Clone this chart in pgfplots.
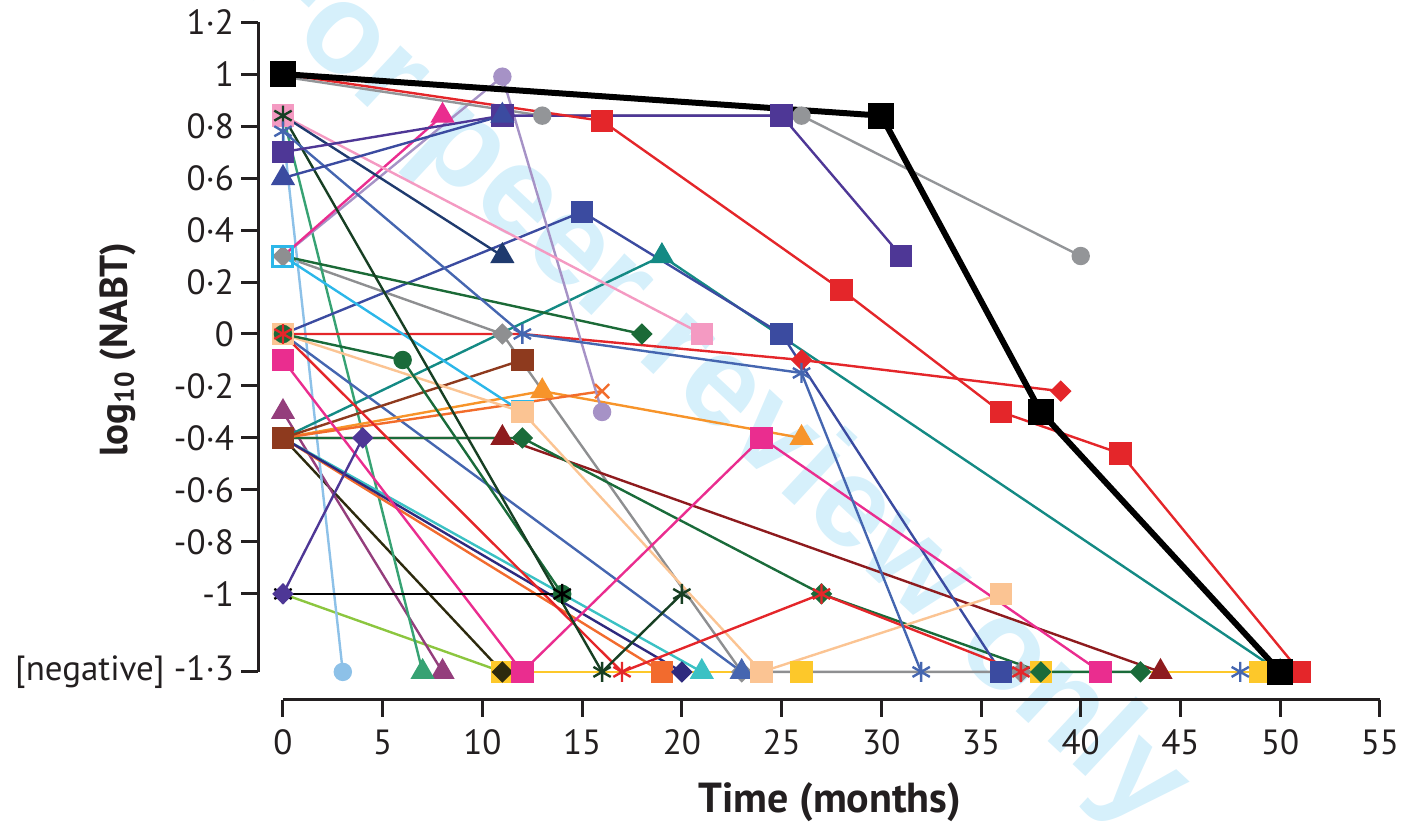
\documentclass[border=0pt]{standalone}
\usepackage{pgfplots}
\pgfplotsset{compat=1.18}
\usepackage{fontspec}
\setmainfont{PT Sans}
\newfontfamily\wmfont{Liberation Sans}
\definecolor{cred}{HTML}{E4262A}
\definecolor{cgrey}{HTML}{939598}
\definecolor{cpurple}{HTML}{4E3796}
\definecolor{cblue}{HTML}{3B4BA0}
\definecolor{clilac}{HTML}{A692C6}
\definecolor{cmagenta}{HTML}{EA2D8F}
\definecolor{cnavy}{HTML}{1F3A6E}
\definecolor{cdkgreenx}{HTML}{173F23}
\definecolor{cgreen}{HTML}{1A6B3A}
\definecolor{cseagreen}{HTML}{37A273}
\definecolor{clightblue}{HTML}{8DC1E8}
\definecolor{cbluest}{HTML}{4566B0}
\definecolor{cteal}{HTML}{148A84}
\definecolor{cdgdiam}{HTML}{1B6A37}
\definecolor{cgreydiam}{HTML}{8E8F91}
\definecolor{cpink}{HTML}{F49AC2}
\definecolor{ccyan}{HTML}{2CB7E9}
\definecolor{cpeach}{HTML}{FBC493}
\definecolor{cbrown}{HTML}{8E3A1E}
\definecolor{corangetri}{HTML}{F7942A}
\definecolor{corangex}{HTML}{F26C2B}
\definecolor{cdkred}{HTML}{8E1B1E}
\definecolor{corangesq}{HTML}{F26B2E}
\definecolor{cturq}{HTML}{3BC1C4}
\definecolor{cyellow}{HTML}{FDC82A}
\definecolor{cindigo}{HTML}{2E2A7E}
\definecolor{colive}{HTML}{2D2A0E}
\definecolor{cygreen}{HTML}{8CC63F}
\definecolor{cplum}{HTML}{943E7C}
\definecolor{cwm}{HTML}{D6F0FB}
\definecolor{caxis}{HTML}{231F20}
\begin{document}
\begin{tikzpicture}
% watermark (behind the axis)
\node[rotate=-43, text=cwm, font=\wmfont\bfseries\fontsize{64}{72}\selectfont, inner sep=0pt]
  at (227pt,158.5pt) {For peer review only};
\begin{axis}[
  at={(0pt,0pt)}, anchor=south west,
  scale only axis, width=561pt, height=339pt,
  xmin=-1.25, xmax=55, ymin=-1.408, ymax=1.2,
  clip=false,
  axis x line*=bottom, axis y line*=left,
  axis line style={draw=none},
  tick align=outside,
  major tick length=8.5pt,
  tick style={line width=1.5pt, color=caxis},
  xtick={0,5,10,15,20,25,30,35,40,45,50,55},
  xticklabels={0,5,10,15,20,25,30,35,40,45,50,55},
  ytick={-1.3,-1,-0.8,-0.6,-0.4,-0.2,0,0.2,0.4,0.6,0.8,1,1.2},
  yticklabels={[negative] -1·3,-1,-0·8,-0·6,-0·4,-0·2,0,0·2,0·4,0·6,0·8,1,1·2},
  tick label style={font=\fontsize{17.5}{20}\selectfont, text=caxis},
  xticklabel style={yshift=-3pt},
  every axis plot/.append style={line width=1.2pt, mark size=5pt, mark options={solid}},
]
% spines
\draw[line width=1.5pt, caxis] (axis cs:-1.25,-1.3) -- (axis cs:-1.25,1.2);
\draw[line width=1.5pt, caxis] (axis cs:0,-1.408) -- (axis cs:55,-1.408);
% series
\addplot[cyellow, mark=square*] coordinates {(11,-1.3)(26,-1.3)(38,-1.3)(49,-1.3)};
\addplot[cgreydiam, mark=square*, mark size=3.2pt, mark options={rotate=45}] coordinates {(0,0.3)(11,0)(23,-1.3)(37,-1.3)};
\addplot[cygreen, mark=none] coordinates {(0,-1)(11,-1.3)};
\addplot[colive, mark=square*, mark size=3.2pt, mark options={rotate=45}, mark indices={2}] coordinates {(0,-0.4)(11,-1.3)};
\addplot[cplum, mark=triangle*, mark size=5.8pt] coordinates {(0,-0.3)(8,-1.3)};
\addplot[cseagreen, mark=triangle*, mark size=5.8pt, mark indices={2}] coordinates {(0,0.84)(7,-1.3)};
\addplot[clightblue, mark=*, mark size=4pt, mark indices={2}] coordinates {(0,0.78)(3,-1.3)};
\addplot[cteal, mark=triangle*, mark size=5.8pt, mark indices={2,3}] coordinates {(0,-0.4)(19,0.3)(50,-1.3)};
\addplot[cbluest, mark=triangle*, mark size=5.8pt, mark indices={2}] coordinates {(0,0)(23,-1.3)};
\addplot[cturq, mark=triangle*, mark size=5.8pt, mark indices={2}] coordinates {(0,-0.4)(21,-1.3)};
\addplot[corangesq, mark=square*, mark indices={2}] coordinates {(0,-0.4)(19,-1.3)};
\addplot[cindigo, mark=square*, mark size=3.2pt, mark options={rotate=45}, mark indices={2}] coordinates {(0,-0.4)(20,-1.3)};
\addplot[cdkred, mark=triangle*, mark size=5.8pt, mark indices={2,3}] coordinates {(0,-0.4)(11,-0.4)(44,-1.3)};
\addplot[cgreen, mark=square*, mark size=3.2pt, mark options={rotate=45}, mark indices={2,3,4,5}] coordinates {(0,-0.4)(12,-0.4)(27,-1)(38,-1.3)(43,-1.3)};
\addplot[cblue, mark=square*, mark indices={2,3,4}] coordinates {(0,0)(15,0.47)(25,0)(36,-1.3)};
\addplot[cred, mark=square*, mark size=3.2pt, mark options={rotate=45}, mark indices={3,4}] coordinates {(0,0)(12,0)(26,-0.1)(39,-0.22)};
\addplot[corangetri, mark=triangle*, mark size=5.8pt, mark indices={2,3}] coordinates {(0,-0.4)(13,-0.22)(26,-0.4)};
\addplot[corangex, mark=x, mark indices={2}] coordinates {(0,-0.4)(16,-0.22)};
\addplot[cbrown, mark=square*] coordinates {(0,-0.4)(12,-0.1)};
\addplot[cdgdiam, mark=square*, mark size=3.2pt, mark options={rotate=45}, mark indices={2}] coordinates {(0,0.3)(18,0)};
\addplot[clilac, mark=*, mark size=4pt, mark indices={2,3}] coordinates {(0,0.3)(11,0.99)(16,-0.3)};
\addplot[cmagenta, mark=triangle*, mark size=5.8pt, mark indices={2}] coordinates {(0,0.3)(8,0.84)};
\addplot[ccyan, mark=square, mark options={line width=1.5pt}] coordinates {(0,0.3)(12,-0.3)};
\addplot[cpeach, mark=square*] coordinates {(0,0)(12,-0.3)(24,-1.3)(36,-1)};
\addplot[cmagenta, mark=square*] coordinates {(0,-0.1)(12,-1.3)(24,-0.4)(41,-1.3)};
\addplot[cgreen, mark=*, mark size=4pt] coordinates {(0,0)(6,-0.1)(14,-1)};
\addplot[cred, mark=asterisk] coordinates {(0,0)(17,-1.3)(27,-1)(37,-1.3)};
\addplot[black, mark=asterisk] coordinates {(0,-1)(14,-1)};
\addplot[cpurple, mark=square*, mark size=3.2pt, mark options={rotate=45}] coordinates {(0,-1)(4,-0.4)};
\addplot[cpink, mark=square*] coordinates {(0,0.84)(21,0)};
\addplot[cdkgreenx, mark=asterisk] coordinates {(0,0.84)(16,-1.3)(20,-1)};
\addplot[cnavy, mark=triangle*, mark size=5.8pt, mark indices={2}] coordinates {(0,0.84)(11,0.3)};
\addplot[cbluest, mark=asterisk] coordinates {(0,0.78)(12,0)(26,-0.15)(32,-1.3)};
\addplot[cbluest, only marks, mark=asterisk] coordinates {(48,-1.3)};
\addplot[cgrey, mark=*, mark size=4pt, mark indices={2,3,4}] coordinates {(0,0.99)(13,0.84)(26,0.84)(40,0.3)};
\addplot[cpurple, mark=square*] coordinates {(0,0.7)(11,0.84)(25,0.84)(31,0.3)};
\addplot[cblue, mark=triangle*, mark size=5.8pt] coordinates {(0,0.6)(11,0.84)};
\addplot[cred, mark=square*] coordinates {(0,1)(16,0.82)(28,0.17)(36,-0.3)(42,-0.46)(51,-1.3)};
\addplot[black, line width=3pt, mark=square*] coordinates {(0,1)(30,0.84)(38,-0.3)(50,-1.3)};
% labels
\node[rotate=90, font=\bfseries\fontsize{19.5}{22}\selectfont, text=caxis] at (axis cs:-8.27,-0.06) {log\textsubscript{10} (NABT)};
\node[font=\bfseries\fontsize{21}{24}\selectfont, text=caxis] at (axis cs:27.42,-1.80) {Time (months)};
\coordinate (BL) at (axis cs:-14.19,-1.888);
\coordinate (TR) at (axis cs:56.36,1.285);
\end{axis}
\pgfresetboundingbox
\path[use as bounding box] (BL) rectangle (TR);
\end{tikzpicture}
\end{document}
